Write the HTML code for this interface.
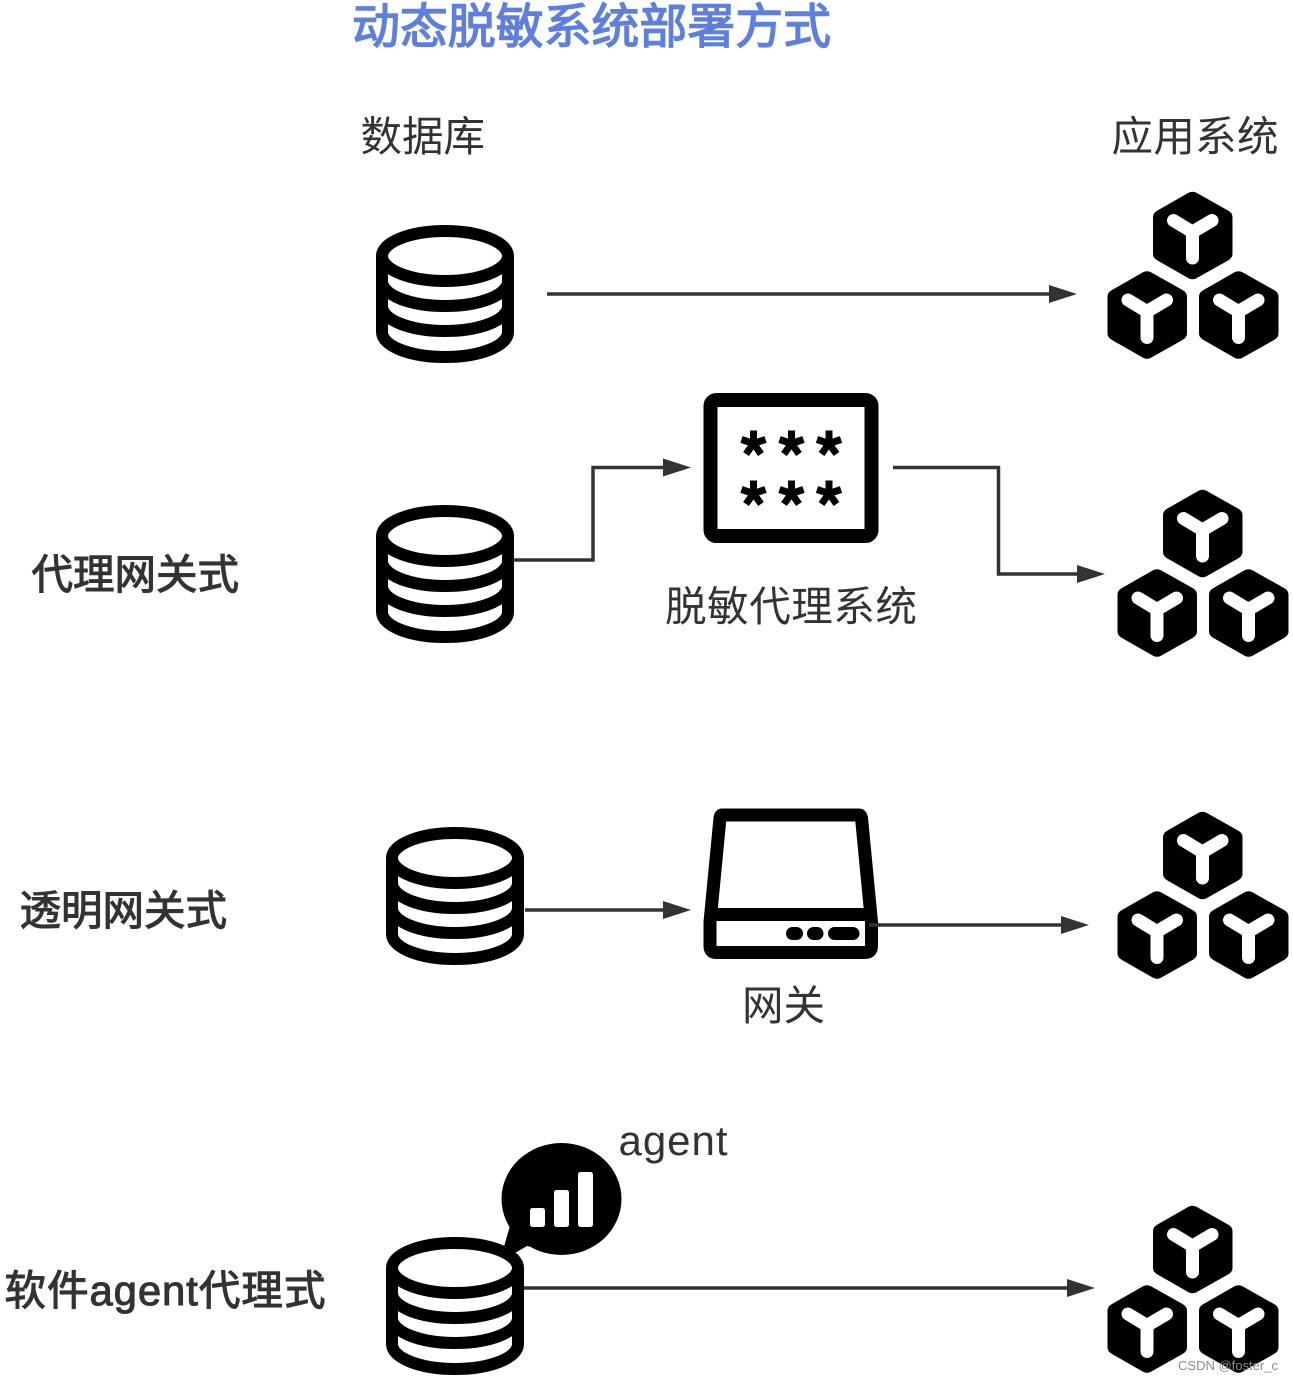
<!DOCTYPE html>
<html><head><meta charset="utf-8">
<style>
html,body{margin:0;padding:0;background:#fff}
svg{display:block}
text{font-family:"Liberation Sans","Noto Sans CJK SC",sans-serif}
</style></head>
<body>
<svg xmlns="http://www.w3.org/2000/svg" width="1293" height="1381" viewBox="0 0 1293 1381">
<defs>
<g id="db" fill="none" stroke="#000" stroke-width="12">
  <ellipse cx="69" cy="31" rx="63" ry="25" fill="#fff"/>
  <path d="M6 31V107C6 121 34 132 69 132S132 121 132 107V31"/>
  <path d="M6 56C6 70 34 81 69 81S132 70 132 56"/>
  <path d="M6 81C6 95 34 106 69 106S132 95 132 81"/>
</g>
<g id="cube">
  <path d="M36 1.500Q39.500 0 43 1.500L75 19.500Q79.500 22 79.500 26V63Q79.500 67 75 69.500L43 87.500Q39.500 89 36 87.500L4.500 69.500Q0 67 0 63V26Q0 22 4.500 19.500Z" fill="#000"/>
  <path d="M20.500 29.500L39.500 41L59 29.500M39.500 41V67" fill="none" stroke="#fff" stroke-width="13" stroke-linecap="round" stroke-linejoin="round"/>
</g>
<g id="cubes">
  <use href="#cube" x="46" y="0"/>
  <use href="#cube" x="0.500" y="79.500"/>
  <use href="#cube" x="92" y="79.500"/>
</g>
<g id="ast" stroke="#000" stroke-width="7" fill="none">
  <path d="M0 0V-13M0 0L12 -4M0 0L-12 -4M0 0L7.500 10.500M0 0L-7.500 10.500"/>
</g>
</defs>

<text x="352" y="43" font-size="48" fill="#5f7fe0" stroke="#5f7fe0" stroke-width="1.400" textLength="479" lengthAdjust="spacingAndGlyphs">动态脱敏系统部署方式</text>
<g font-size="41.500" fill="#333">
  <text x="360.500" y="151">数据库</text>
  <text x="1111.500" y="151" textLength="167">应用系统</text>
  <text x="665" y="621" textLength="252">脱敏代理系统</text>
  <text x="742" y="1020">网关</text>
</g>
<g font-size="41.500" fill="#333" stroke="#333" stroke-width="1.100">
  <text x="31.500" y="589">代理网关式</text>
  <text x="19.500" y="925">透明网关式</text>
  <text x="4.500" y="1305" textLength="321" lengthAdjust="spacing">软件agent代理式</text>
</g>
<text x="618.500" y="1155" font-size="42" fill="#333" textLength="109">agent</text>

<!-- connectors -->
<g fill="none" stroke="#333" stroke-width="3.500">
  <path d="M547 294H1052"/>
  <path d="M514 560H593V467.500H666"/>
  <path d="M893 467.500H998.500V574H1079"/>
  <path d="M525 910H666"/>
  <path d="M866 925H1064"/>
  <path d="M523 1288H1070"/>
</g>
<g fill="#333">
  <path d="M1049 285L1077 294L1049 303Z"/>
  <path d="M663 458.500L691 467.500L663 476.500Z"/>
  <path d="M1077 565L1105 574L1077 583Z"/>
  <path d="M663 901L691 910L663 919Z"/>
  <path d="M1061 916L1089 925L1061 934Z"/>
  <path d="M1067 1279L1095 1288L1067 1297Z"/>
</g>

<use href="#db" x="376" y="225"/>
<use href="#db" x="376" y="505"/>
<use href="#db" x="386" y="827"/>

<!-- agent bubble -->
<ellipse cx="561.500" cy="1199" rx="60" ry="56" fill="#000"/>
<path d="M510 1226L503 1250L515 1253L527 1246L545 1250Z" fill="#000"/>
<g fill="#fff">
  <rect x="530" y="1208" width="15" height="19" rx="2.500"/>
  <rect x="554" y="1190" width="15" height="37" rx="2.500"/>
  <rect x="578" y="1172" width="15" height="55" rx="2.500"/>
</g>
<use href="#db" x="386" y="1237"/>

<use href="#cubes" x="1107" y="191"/>
<use href="#cubes" x="1117" y="489"/>
<use href="#cubes" x="1117" y="811"/>
<use href="#cubes" x="1107" y="1205"/>

<!-- mask box -->
<rect x="710.500" y="400" width="161" height="136" rx="6" fill="#fff" stroke="#000" stroke-width="14"/>
<use href="#ast" x="753.500" y="443.500"/>
<use href="#ast" x="791.500" y="443.500"/>
<use href="#ast" x="829" y="443.500"/>
<use href="#ast" x="753.500" y="493.500"/>
<use href="#ast" x="791.500" y="493.500"/>
<use href="#ast" x="829" y="493.500"/>

<!-- gateway -->
<path d="M722 815H859Q861 815 861.500 818L871.500 922V946Q871.500 952.500 865 952.500H716Q710 952.500 710 946V922L720 818Q720.500 815 722 815Z" fill="#fff" stroke="#000" stroke-width="13" stroke-linejoin="round"/>
<path d="M710 914.500H871" stroke="#000" stroke-width="13" fill="none"/>
<rect x="786" y="927" width="17" height="13" rx="6.500" fill="#000"/>
<rect x="807" y="927" width="16.500" height="13" rx="6.500" fill="#000"/>
<rect x="828" y="927" width="31.500" height="13" rx="6.500" fill="#000"/>
<path d="M869 925H880" stroke="#333" stroke-width="3.500"/>

<text x="1178" y="1370" font-size="13" fill="#8c8c8c" textLength="100">CSDN @foster_c</text>
</svg>
</body></html>
